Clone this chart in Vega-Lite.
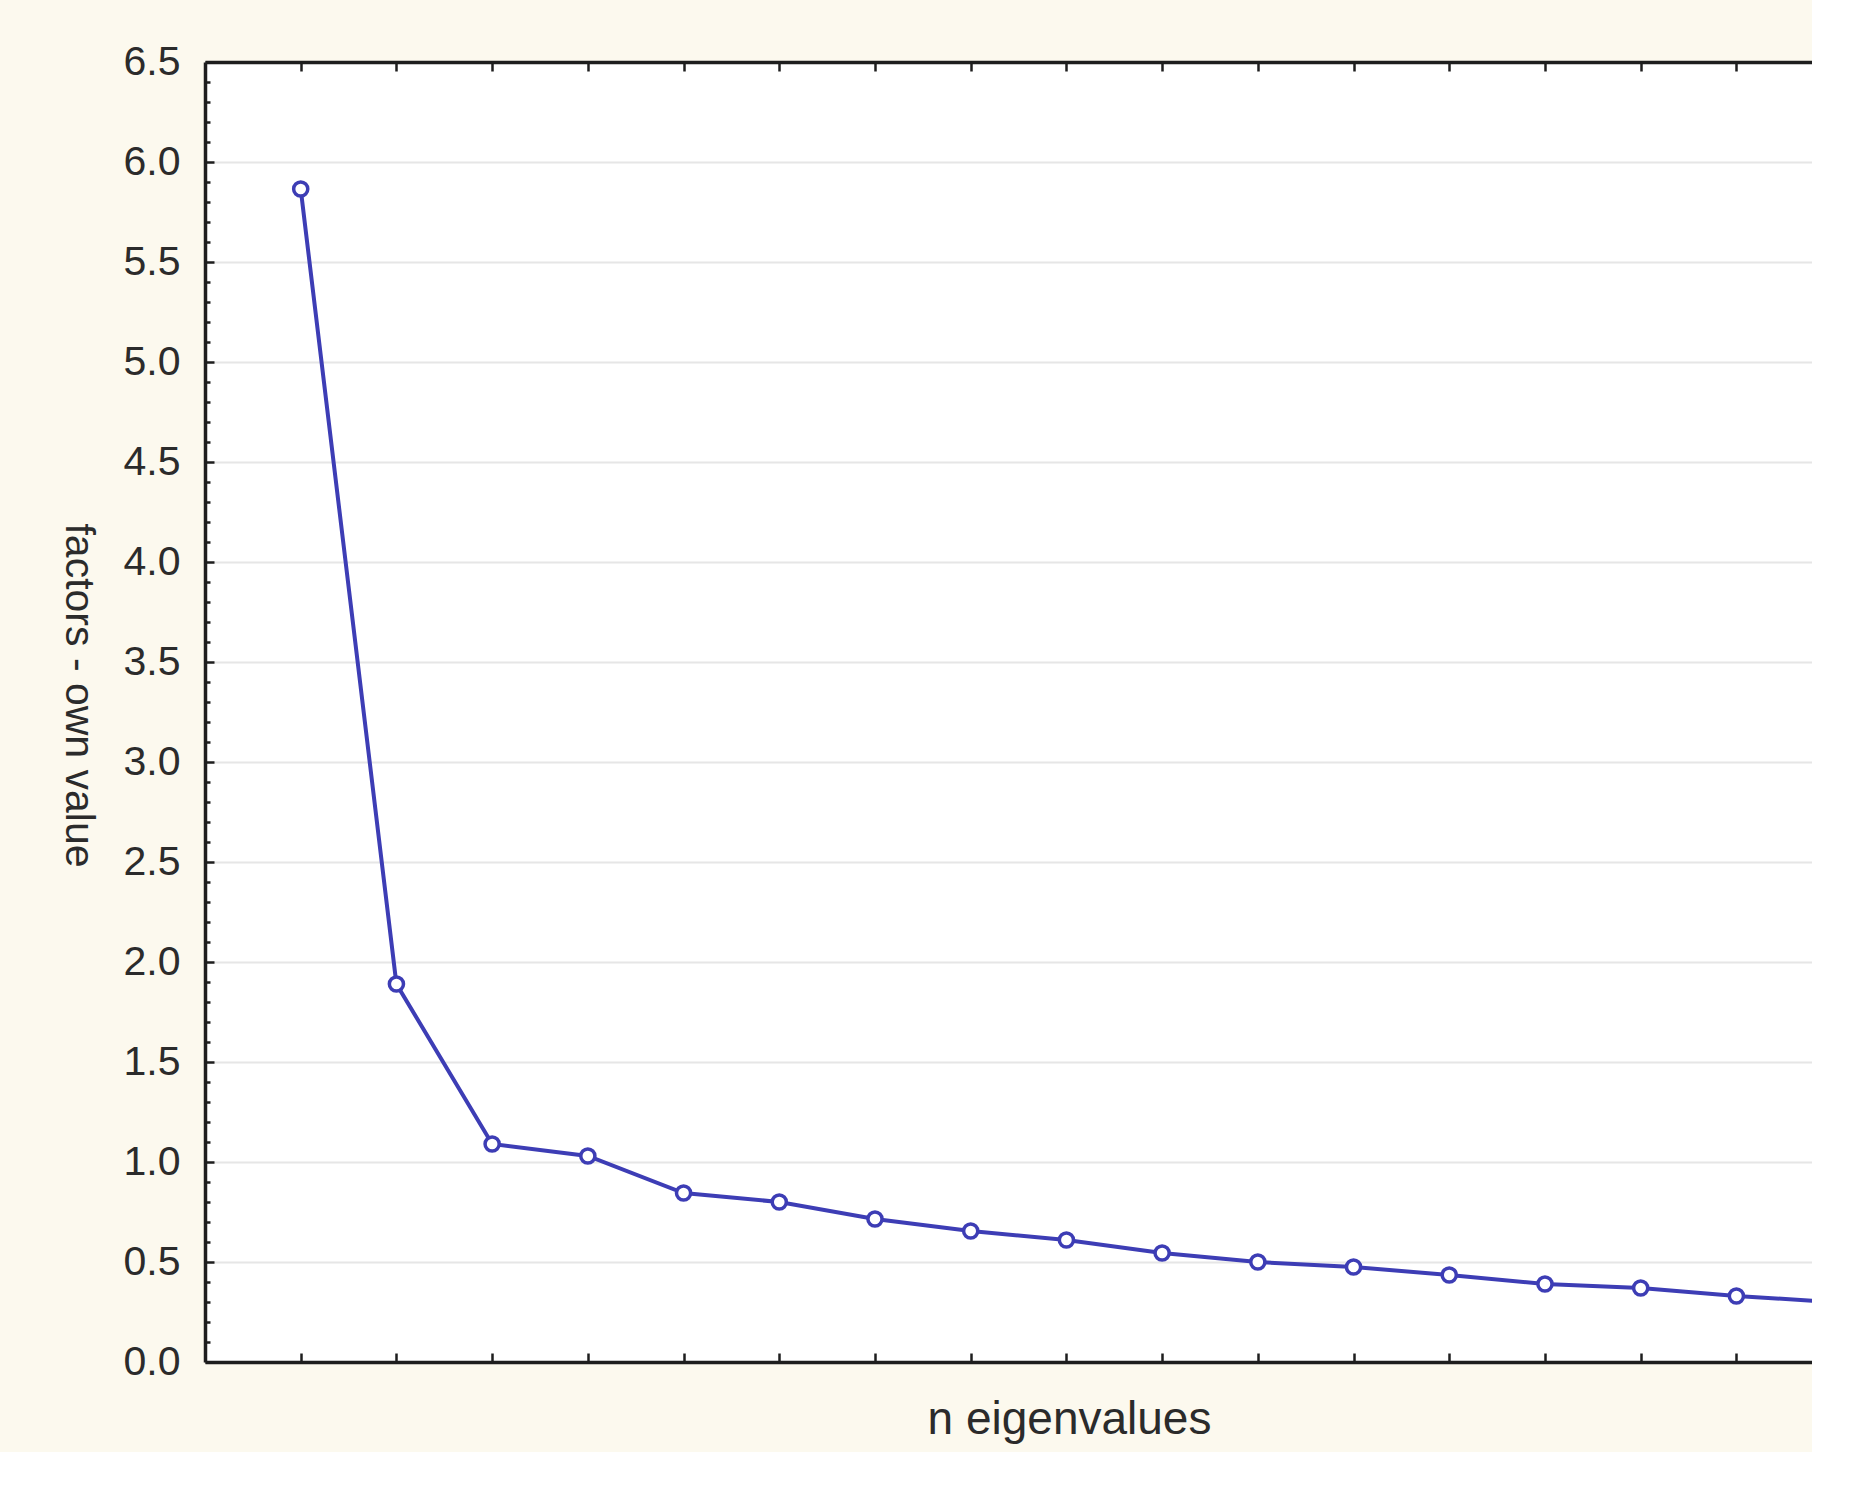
{
  "$schema": "https://vega.github.io/schema/vega-lite/v6.json",
  "width": 1607,
  "height": 1300,
  "autosize": {"type": "none"},
  "padding": {"left": 205, "top": 62, "right": 0, "bottom": 90},
  "background": "#fcf9ee",
  "config": {"view": {"fill": "white", "stroke": null}},
  "data": {
    "values": [
      {"n": 1, "v": 5.865},
      {"n": 2, "v": 1.89},
      {"n": 3, "v": 1.09},
      {"n": 4, "v": 1.03},
      {"n": 5, "v": 0.845},
      {"n": 6, "v": 0.8},
      {"n": 7, "v": 0.715},
      {"n": 8, "v": 0.655},
      {"n": 9, "v": 0.61},
      {"n": 10, "v": 0.545},
      {"n": 11, "v": 0.5},
      {"n": 12, "v": 0.475},
      {"n": 13, "v": 0.435},
      {"n": 14, "v": 0.39},
      {"n": 15, "v": 0.37},
      {"n": 16, "v": 0.33},
      {"n": 17, "v": 0.3}
    ]
  },
  "layer": [
    {
      "mark": {"type": "line", "color": "#3d3db5", "strokeWidth": 4, "clip": true},
      "encoding": {
        "x": {
          "field": "n",
          "type": "quantitative",
          "scale": {"domain": [0, 16.79], "nice": false, "zero": false},
          "axis": {
            "orient": "bottom",
            "values": [1, 2, 3, 4, 5, 6, 7, 8, 9, 10, 11, 12, 13, 14, 15, 16],
            "domain": true,
            "domainColor": "#1e1e1e",
            "domainWidth": 3.5,
            "ticks": true,
            "tickColor": "#1e1e1e",
            "tickWidth": 2.5,
            "tickSize": -9,
            "labels": false,
            "grid": false,
            "title": "n eigenvalues",
            "titleFont": "Liberation Sans",
            "titleFontSize": 46,
            "titleFontWeight": "normal",
            "titleColor": "#2b2b2b",
            "titleX": 864,
            "titleY": 71,
            "titleAlign": "center",
            "titleBaseline": "alphabetic"
          }
        },
        "y": {
          "field": "v",
          "type": "quantitative",
          "scale": {"domain": [0, 6.5], "nice": false},
          "axis": {
            "orient": "left",
            "values": [0, 0.5, 1, 1.5, 2, 2.5, 3, 3.5, 4, 4.5, 5, 5.5, 6, 6.5],
            "format": ".1f",
            "domain": true,
            "domainColor": "#1e1e1e",
            "domainWidth": 3.5,
            "ticks": true,
            "tickColor": "#1e1e1e",
            "tickWidth": 2.5,
            "tickSize": -9,
            "labelPadding": 34,
            "labelFont": "Liberation Sans",
            "labelFontSize": 41,
            "labelColor": "#2b2b2b",
            "labelOverlap": false,
            "labelBound": false,
            "labelFlush": false,
            "grid": true,
            "gridColor": "#e6e6e6",
            "gridWidth": 2,
            "title": "factors - own value",
            "titleFont": "Liberation Sans",
            "titleFontSize": 41,
            "titleFontWeight": "normal",
            "titleColor": "#2b2b2b",
            "titleAngle": 90,
            "titleX": -128,
            "titleY": 633,
            "titleAlign": "center",
            "titleBaseline": "middle"
          }
        }
      }
    },
    {
      "mark": {"type": "point", "shape": "circle", "filled": false, "fill": "white", "fillOpacity": 1, "color": "#3d3db5", "strokeWidth": 3.5, "size": 200, "opacity": 1, "clip": true},
      "encoding": {
        "x": {
          "field": "n",
          "type": "quantitative",
          "scale": {"domain": [0, 16.79], "nice": false, "zero": false},
          "axis": {
            "orient": "top",
            "values": [1, 2, 3, 4, 5, 6, 7, 8, 9, 10, 11, 12, 13, 14, 15, 16],
            "domain": true,
            "domainColor": "#1e1e1e",
            "domainWidth": 3.5,
            "ticks": true,
            "tickColor": "#1e1e1e",
            "tickWidth": 2.5,
            "tickSize": -9,
            "labels": false,
            "grid": false,
            "title": null
          }
        },
        "y": {
          "field": "v",
          "type": "quantitative",
          "axis": {
            "orient": "left",
            "values": [0.1, 0.2, 0.3, 0.4, 0.6, 0.7, 0.8, 0.9, 1.1, 1.2, 1.3, 1.4, 1.6, 1.7, 1.8, 1.9, 2.1, 2.2, 2.3, 2.4, 2.6, 2.7, 2.8, 2.9, 3.1, 3.2, 3.3, 3.4, 3.6, 3.7, 3.8, 3.9, 4.1, 4.2, 4.3, 4.4, 4.6, 4.7, 4.8, 4.9, 5.1, 5.2, 5.3, 5.4, 5.6, 5.7, 5.8, 5.9, 6.1, 6.2, 6.3, 6.4],
            "domain": false,
            "ticks": true,
            "tickColor": "#1e1e1e",
            "tickWidth": 2.5,
            "tickSize": -5,
            "labels": false,
            "grid": false,
            "title": null
          }
        }
      }
    }
  ],
  "resolve": {"axis": {"x": "independent", "y": "independent"}}
}
